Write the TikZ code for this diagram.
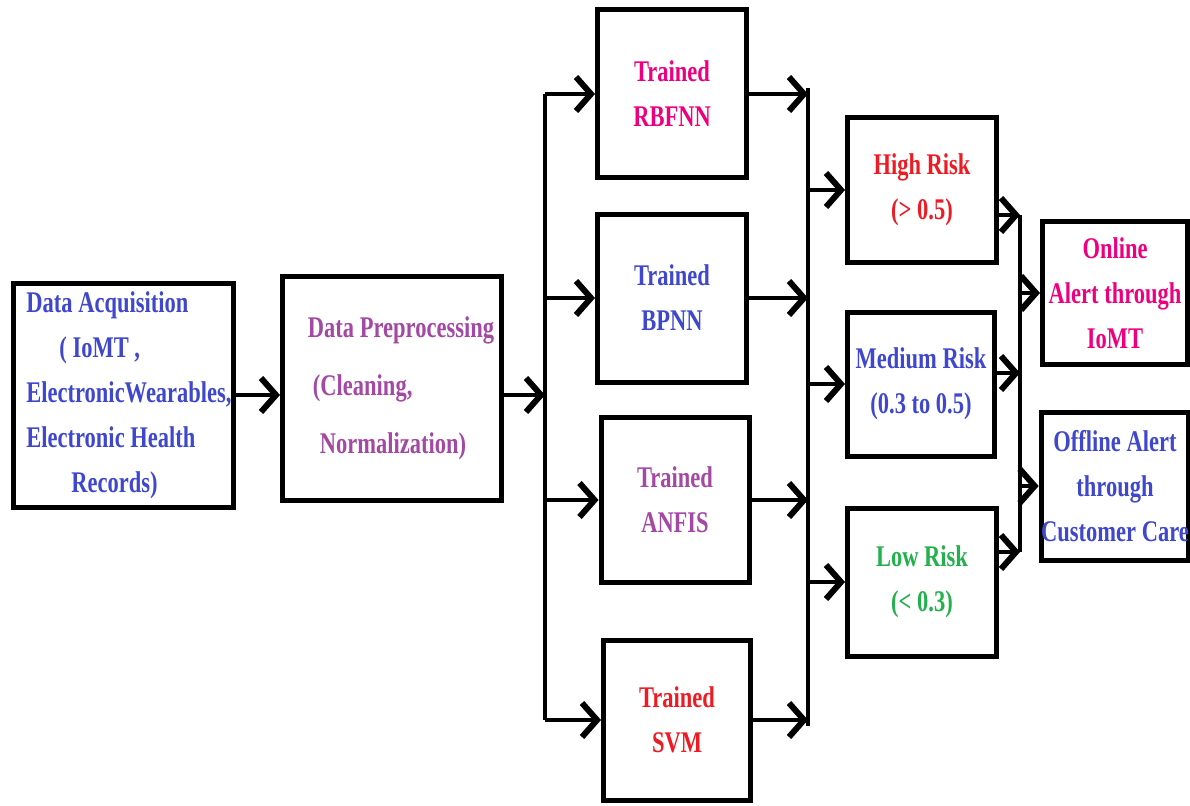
\documentclass[tikz,border=0pt]{standalone}
\usepackage{fontspec}
\setmainfont{Liberation Serif}[FakeStretch=0.75]
\usetikzlibrary{arrows.meta}
\definecolor{tblue}{RGB}{63,72,204}
\definecolor{tpurple}{RGB}{163,73,164}
\definecolor{tpink}{RGB}{236,0,128}
\definecolor{tred}{RGB}{237,28,36}
\definecolor{tgreen}{RGB}{34,177,76}
\begin{document}
\begin{tikzpicture}[x=1pt,y=-1pt,
    box/.style={draw,line width=5pt,inner sep=0pt,align=center,
      font=\fontsize{30}{45}\selectfont\bfseries},
    arr/.style={line width=4.5pt,-{Straight Barb[length=15pt,width=34pt,line width=6pt]}},
    bus/.style={line width=4.5pt}]
    \useasboundingbox (0,0) rectangle (1190,805);
    \fill[white] (0,0) rectangle (1190,805);
    % input and preprocessing
    \node[box,minimum width=220pt,minimum height=224pt,text=tblue,align=left]
      (acq) at (123,395) {\hspace*{12pt}Data Acquisition\\ \hspace*{45pt}( IoMT ,\\
      \hspace*{12pt}ElectronicWearables,\\ \hspace*{12pt}Electronic Health\\
      \hspace*{57pt}Records)};
    \node[box,minimum width=219pt,minimum height=224pt,text=tpurple,align=left]
      (pre) at (392,388) {\hspace*{18pt}Data Preprocessing\\[13pt]
      \hspace*{23pt}(Cleaning,\\[13pt] \hspace*{30pt}Normalization)};
    % trained models
    \node[box,minimum width=149pt,minimum height=168pt,text=tpink]
      (rbf) at (672,94) {Trained\\RBFNN};
    \node[box,minimum width=149pt,minimum height=168pt,text=tblue]
      (bpn) at (672,298) {Trained\\BPNN};
    \node[box,minimum width=148pt,minimum height=165pt,text=tpurple]
      (anf) at (675,500) {Trained\\ANFIS};
    \node[box,minimum width=147pt,minimum height=160pt,text=tred]
      (svm) at (677,720) {Trained\\SVM};
    % risk levels
    \node[box,minimum width=149pt,minimum height=145pt,text=tred]
      (high) at (922,190) {High Risk\\(> 0.5)};
    \node[box,minimum width=147pt,minimum height=144pt,text=tblue]
      (med) at (921,384) {Medium Risk\\(0.3 to 0.5)};
    \node[box,minimum width=149pt,minimum height=148pt,text=tgreen]
      (low) at (922,582) {Low Risk\\(< 0.3)};
    % alerts
    \node[box,minimum width=145pt,minimum height=143pt,text=tpink]
      (onl) at (1115,293) {Online\\Alert through\\IoMT};
    \node[box,minimum width=144pt,minimum height=148pt,text=tblue]
      (off) at (1115,486) {Offline Alert\\through\\Customer Care};
    % buses
    \coordinate (b1) at (545,395);
    \coordinate (b2) at (808,395);
    \coordinate (c1) at (1020,215);
    \coordinate (c2) at (1020,373);
    \coordinate (c3) at (1020,552);
    \draw[arr] (acq.east) -- (acq.east -| pre.west);
    \draw[arr] (pre.east |- b1) -- (b1);
    \draw[bus] (b1 |- rbf.west) -- (b1 |- svm.west);
    \foreach \n in {rbf,bpn,anf,svm}
      \draw[arr] (b1 |- \n.west) -- (\n.west);
    \draw[bus] ([yshift=6pt]b2 |- rbf.east) -- ([yshift=-6pt]b2 |- svm.east);
    \foreach \n in {rbf,bpn,anf,svm}
      \draw[arr] (\n.east) -- (b2 |- \n.east);
    \foreach \n in {high,med,low}
      \draw[arr] (b2 |- \n.west) -- (\n.west);
    \draw[arr] (high.east |- c1) -- (c1);
    \draw[arr] (med.east |- c2) -- (c2);
    \draw[arr] (low.east |- c3) -- (c3);
    \draw[bus] (c1) -- (c3);
    \draw[arr] (c1 |- onl.west) -- (onl.west);
    \draw[arr] (c1 |- off.west) -- (off.west);
\end{tikzpicture}
\end{document}
